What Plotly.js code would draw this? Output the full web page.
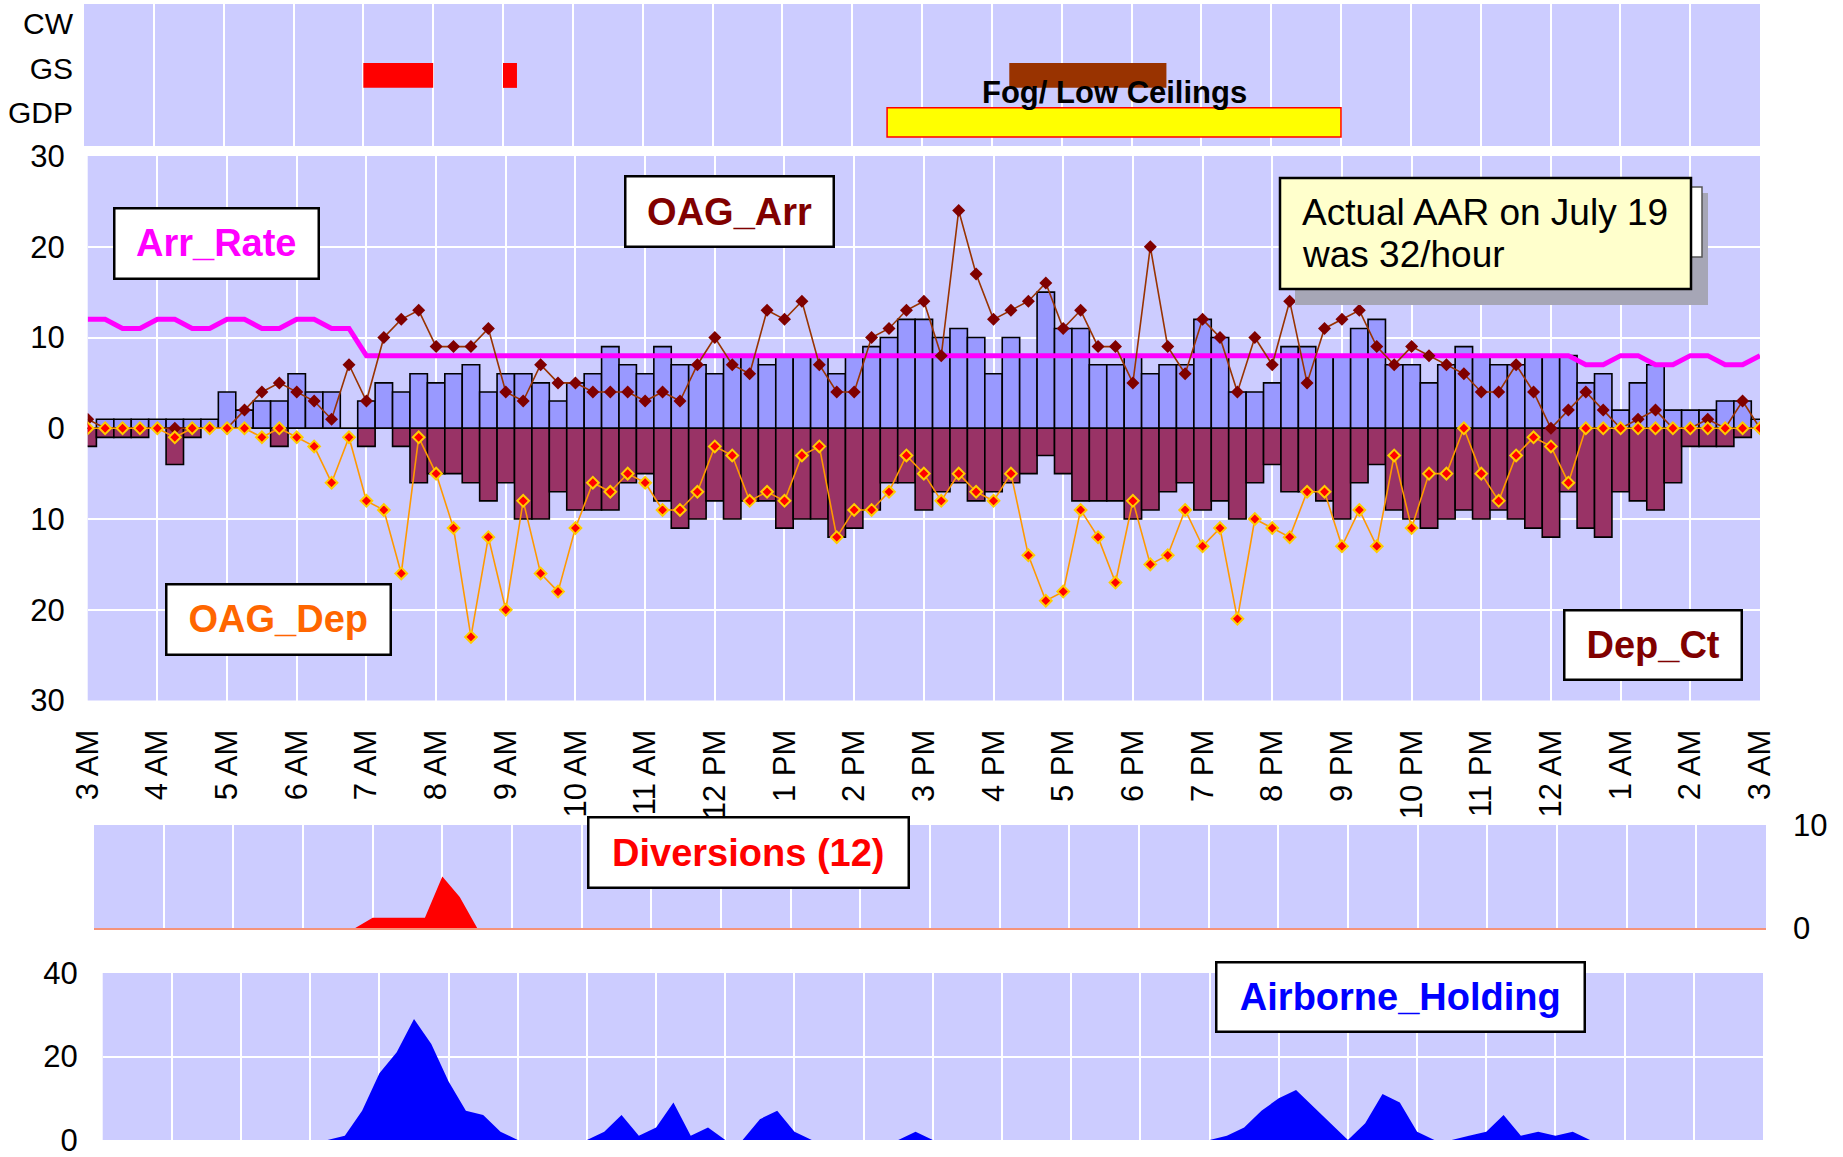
<!DOCTYPE html>
<html>
<head>
<meta charset="utf-8">
<script src="https://cdn.plot.ly/plotly-3.0.1.min.js"></script>
<style>html,body{margin:0;padding:0;background:#fff}#chart{width:1843px;height:1157px}</style>
</head>
<body>
<div id="chart"></div>
<script>
// ---------------- DATA ----------------
const hourLabels = ['3 AM','4 AM','5 AM','6 AM','7 AM','8 AM','9 AM','10 AM','11 AM','12 PM','1 PM','2 PM',
  '3 PM','4 PM','5 PM','6 PM','7 PM','8 PM','9 PM','10 PM','11 PM','12 AM','1 AM','2 AM','3 AM'];

// 15-minute slots, 3 AM .. 3 AM next day (97 values)
const arrCt = [0,1,1,1,1,1,1,1, 4,2,3,3,6,4,4,0, 3,5,4,6,5,6,7,4, 6,6,5,3,5,6,9,7,
  6,9,7,7,6,8,8,7, 8,8,8,6,8,9,10,12, 12,10,11,10,6,10,8,15, 11,11,7,7,8,6,7,7,
  12,10,4,4,5,9,9,8, 8,11,12,7,7,5,7,9, 8,7,7,8,8,8,5,6, 2,5,7,2,2,2,3,3, 1];
const depCt = [2,1,1,1,0,4,1,0, 0,0,0,2,0,0,0,0, 2,0,2,6,5,5,6,8, 6,10,10,7,9,9,9,6,
  5,8,11,10,8,10,8,8, 11,10,10,12,11,9,6,6, 9,7,6,8,7,6,5,3, 5,8,8,8,10,9,7,6,
  9,8,10,6,4,7,7,8, 10,6,4,9,10,11,10,9, 10,9,10,11,12,7,11,12, 7,8,9,6,2,2,2,1, 0];
const oagArr = [1,0,0,0,0,0,0,0, 0,2,4,5,4,3,1,7, 3,10,12,13,9,9,9,11, 4,3,7,5,5,4,4,4,
  3,4,3,7,10,7,6,13, 12,14,7,4,4,10,11,13, 14,8,24,17,12,13,14,16, 11,13,9,9,5,20,9,6,
  12,10,4,10,7,14,5,11, 12,13,9,7,9,8,7,6, 4,4,7,4,0,2,4,2, 0,1,2,0,0,1,0,3, 0];
const oagDep = [0,0,0,0,0,1,0,0, 0,0,1,0,1,2,6,1, 8,9,16,1,5,11,23,12, 20,8,16,18,11,6,7,5,
  6,9,9,7,2,3,8,7, 8,3,2,12,9,9,7,3, 5,8,5,7,8,5,14,19, 18,9,12,17,8,15,14,9,
  13,11,21,10,11,12,7,7, 13,9,13,3,11,5,5,0, 5,8,3,1,2,6,0,0, 0,0,0,0,0,0,0,0, 0];
const arrRate = [12,12,11,11,12,12,11,11, 12,12,11,11,12,12,11,11, 8,8,8,8,8,8,8,8, 8,8,8,8,8,8,8,8,
  8,8,8,8,8,8,8,8, 8,8,8,8,8,8,8,8, 8,8,8,8,8,8,8,8, 8,8,8,8,8,8,8,8,
  8,8,8,8,8,8,8,8, 8,8,8,8,8,8,8,8, 8,8,8,8,8,8,7,7, 8,8,7,7,8,8,7,7, 8];
const diversions = [0,0,0,0,0,0,0,0, 0,0,0,0,0,0,0,0, 1,1,1,1,5,3,0,0, 0,0,0,0,0,0,0,0,
  0,0,0,0,0,0,0,0, 0,0,0,0,0,0,0,0, 0,0,0,0,0,0,0,0, 0,0,0,0,0,0,0,0,
  0,0,0,0,0,0,0,0, 0,0,0,0,0,0,0,0, 0,0,0,0,0,0,0,0, 0,0,0,0,0,0,0,0, 0];
const holding = [0,0,0,0,0,0,0,0, 0,0,0,0,0,0,1,7, 16,21,29,23,14,7,6,2, 0,0,0,0,0,2,6,1,
  3,9,1,3,0,0,5,7, 2,0,0,0,0,0,0,2, 0,0,0,0,0,0,0,0, 0,0,0,0,0,0,0,0,
  0,1,3,7,10,12,8,4, 0,4,11,9,2,0,0,1, 2,6,1,2,1,2,0,0, 0,0,0,0,0,0,0,0, 0];

// Traffic-management events (clock times)
const gsStart = ['07:00', '09:00'];
const gsEnd   = ['08:00', '09:12'];
const fogGsStart = ['16:15'];
const fogGsEnd   = ['18:30'];
const gdpStart = ['14:30'];
const gdpEnd   = ['21:00'];
const eventRows = ['GDP', 'GS', 'CW'];

// ---------------- HELPERS ----------------
const W = 1843, H = 1157;
const px = v => v / W;
const py = v => 1 - v / H;
const toHr = t => { const [h, m] = t.split(':').map(Number); return ((h - 3 + 24) % 24) + m / 60; };
const slotHr = arrCt.map((_, i) => i / 4);
const FONT = 'Liberation Sans, Arial, Helvetica, sans-serif';
const hourTicks = hourLabels.map((_, i) => i);
const rowPos = name => eventRows.indexOf(name);

// ---------------- TRACES ----------------
const traces = [
  // top panel events
  { type: 'bar', orientation: 'h', xaxis: 'x2', yaxis: 'y2',
    y: gsStart.map(() => rowPos('GS')), base: gsStart.map(toHr),
    x: gsStart.map((s, i) => toHr(gsEnd[i]) - toHr(s)),
    width: 0.56, offset: -0.44, marker: { color: '#FF0000', line: { width: 0 } } },
  { type: 'bar', orientation: 'h', xaxis: 'x2', yaxis: 'y2',
    y: fogGsStart.map(() => rowPos('GS')), base: fogGsStart.map(toHr),
    x: fogGsStart.map((s, i) => toHr(fogGsEnd[i]) - toHr(s)),
    width: 0.56, offset: -0.44, marker: { color: '#993300', line: { width: 0 } } },
  { type: 'bar', orientation: 'h', xaxis: 'x2', yaxis: 'y2',
    y: gdpStart.map(() => rowPos('GDP')), base: gdpStart.map(toHr),
    x: gdpStart.map((s, i) => toHr(gdpEnd[i]) - toHr(s)),
    width: 0.66, offset: -0.55, marker: { color: '#FFFF00', line: { color: '#FF0000', width: 1.5 } } },

  // main panel
  { type: 'bar', x: slotHr, y: arrCt, width: 0.25, name: 'Arr_Ct',
    marker: { color: '#9999FF', line: { color: '#000000', width: 1.6 } } },
  { type: 'bar', x: slotHr, y: depCt.map(v => -v), width: 0.25, name: 'Dep_Ct',
    marker: { color: '#993366', line: { color: '#000000', width: 1.6 } } },
  { type: 'scatter', mode: 'lines', x: slotHr, y: arrRate, name: 'Arr_Rate',
    line: { color: '#FF00FF', width: 5 } },
  { type: 'scatter', mode: 'lines+markers', x: slotHr, y: oagArr, name: 'OAG_Arr',
    line: { color: '#993300', width: 1.6 },
    marker: { symbol: 'diamond', size: 10, color: '#800000' } },
  { type: 'scatter', mode: 'lines+markers', x: slotHr, y: oagDep.map(v => -v), name: 'OAG_Dep',
    line: { color: '#FF9900', width: 1.6 },
    marker: { symbol: 'diamond', size: 9, color: '#FF0000', line: { color: '#FFCC00', width: 2 } } },

  // diversions
  { type: 'scatter', mode: 'lines', x: slotHr, y: diversions, xaxis: 'x3', yaxis: 'y3',
    fill: 'tozeroy', fillcolor: '#FF0000', line: { color: '#FF0000', width: 0 } },
  // airborne holding
  { type: 'scatter', mode: 'lines', x: slotHr, y: holding, xaxis: 'x4', yaxis: 'y4',
    fill: 'tozeroy', fillcolor: '#0000FF', line: { color: '#0000FF', width: 0 } }
];

// ---------------- LAYOUT ----------------
const gridAxis = {
  showgrid: true, gridcolor: '#FFFFFF', gridwidth: 2, zeroline: false, showline: false,
  ticks: '', automargin: false, fixedrange: true, ticklabeloverflow: 'allow'
};
const tickFont = { family: FONT, size: 31, color: '#000000' };

const boxAnn = (text, color, x0, x1, y0, y1) => ({
  xref: 'paper', yref: 'paper', x: px((x0 + x1) / 2), y: py((y0 + y1) / 2),
  xanchor: 'center', yanchor: 'middle', showarrow: false,
  text: '<b>' + text + '</b>', font: { family: FONT, size: 38, color: color },
  bgcolor: '#FFFFFF', bordercolor: '#000000', borderwidth: 2.5, borderpad: 0,
  width: x1 - x0 - 3, height: y1 - y0 - 3
});

const layout = {
  width: W, height: H, autosize: false,
  margin: { l: 0, r: 0, t: 0, b: 0, pad: 0 },
  paper_bgcolor: '#FFFFFF', plot_bgcolor: '#CCCCFF',
  showlegend: false, barmode: 'overlay',
  font: { family: FONT, color: '#000000' },

  // main
  xaxis: Object.assign({}, gridAxis, {
    domain: [px(87.7), px(1760)], range: [0, 24], anchor: 'y',
    tickmode: 'array', tickvals: hourTicks, ticktext: hourLabels, tickangle: -90,
    tickfont: tickFont, ticklabelstandoff: 22 }),
  yaxis: Object.assign({}, gridAxis, {
    domain: [py(700.5), py(156)], range: [-30, 30], anchor: 'x',
    tickmode: 'array', tickvals: [-30, -20, -10, 0, 10, 20, 30],
    ticktext: ['30', '20', '10', '0', '10', '20', '30'],
    tickfont: tickFont, ticklabelstandoff: 22 }),

  // top events panel
  xaxis2: Object.assign({}, gridAxis, {
    domain: [px(84), px(1760)], range: [0, 24], anchor: 'y2',
    tickmode: 'array', tickvals: hourTicks, showticklabels: false }),
  yaxis2: Object.assign({}, gridAxis, {
    domain: [py(146), py(4)], range: [-0.75, 2.45], anchor: 'x2', showgrid: false,
    tickmode: 'array', tickvals: eventRows.map((_, i) => i), ticktext: eventRows,
    tickfont: { family: FONT, size: 30, color: '#000000' }, ticklabelstandoff: 10 }),

  // diversions
  xaxis3: Object.assign({}, gridAxis, {
    domain: [px(94), px(1766)], range: [0, 24], anchor: 'y3',
    tickmode: 'array', tickvals: hourTicks, showticklabels: false,
    showline: true, linecolor: '#F4937A', linewidth: 2 }),
  yaxis3: Object.assign({}, gridAxis, {
    domain: [py(928), py(825)], range: [0, 10], anchor: 'x3', side: 'right', showgrid: false,
    tickmode: 'array', tickvals: [0, 10], ticktext: ['0', '10'],
    tickfont: tickFont, ticklabelstandoff: 26 }),

  // airborne holding
  xaxis4: Object.assign({}, gridAxis, {
    domain: [px(102.7), px(1763)], range: [0, 40 * 0 + 24], anchor: 'y4',
    tickmode: 'array', tickvals: hourTicks, showticklabels: false }),
  yaxis4: Object.assign({}, gridAxis, {
    domain: [py(1140), py(973)], range: [0, 40], anchor: 'x4',
    tickmode: 'array', tickvals: [0, 20, 40], ticktext: ['0', '20', '40'],
    tickfont: tickFont, ticklabelstandoff: 24 }),

  shapes: [
    // note shadow, back card, note card
    { type: 'rect', xref: 'paper', yref: 'paper', layer: 'above',
      x0: px(1295), x1: px(1708), y0: py(305), y1: py(193),
      fillcolor: '#A6A6B6', line: { width: 0 } },
    { type: 'rect', xref: 'paper', yref: 'paper', layer: 'above',
      x0: px(1300), x1: px(1702), y0: py(257), y1: py(187),
      fillcolor: '#FFFFFF', line: { color: '#555555', width: 1.5 } },
    { type: 'rect', xref: 'paper', yref: 'paper', layer: 'above',
      x0: px(1280), x1: px(1691), y0: py(289), y1: py(178),
      fillcolor: '#FFFFCC', line: { color: '#000000', width: 2.5 } }
  ],

  annotations: [
    { xref: 'x2', yref: 'paper', x: (toHr(gdpStart[0]) + toHr(gdpEnd[0])) / 2, y: py(93),
      xanchor: 'center', yanchor: 'middle', showarrow: false,
      text: '<b>Fog/ Low Ceilings</b>', font: { family: FONT, size: 31, color: '#000000' } },
    boxAnn('Arr_Rate', '#FF00FF', 114, 318.5, 207.7, 278.3),
    boxAnn('OAG_Arr', '#800000', 625.3, 834.4, 175.7, 246.7),
    boxAnn('OAG_Dep', '#FF6600', 166, 390.5, 583.7, 654.3),
    boxAnn('Dep_Ct', '#800000', 1563.7, 1742, 609.7, 680),
    boxAnn('Diversions (12)', '#FF0000', 588, 908.5, 817.3, 888.3),
    boxAnn('Airborne_Holding', '#0000FF', 1215.7, 1584.3, 961.7, 1031.7),
    { xref: 'paper', yref: 'paper', x: px(1300), y: py(212), xanchor: 'left', yanchor: 'middle',
      showarrow: false, text: 'Actual AAR on July 19', font: { family: FONT, size: 37, color: '#000000' } },
    { xref: 'paper', yref: 'paper', x: px(1300), y: py(255), xanchor: 'left', yanchor: 'middle',
      showarrow: false, text: 'was 32/hour', font: { family: FONT, size: 37, color: '#000000' } }
  ]
};

Plotly.newPlot('chart', traces, layout, { staticPlot: true, displayModeBar: false });
</script>
</body>
</html>
